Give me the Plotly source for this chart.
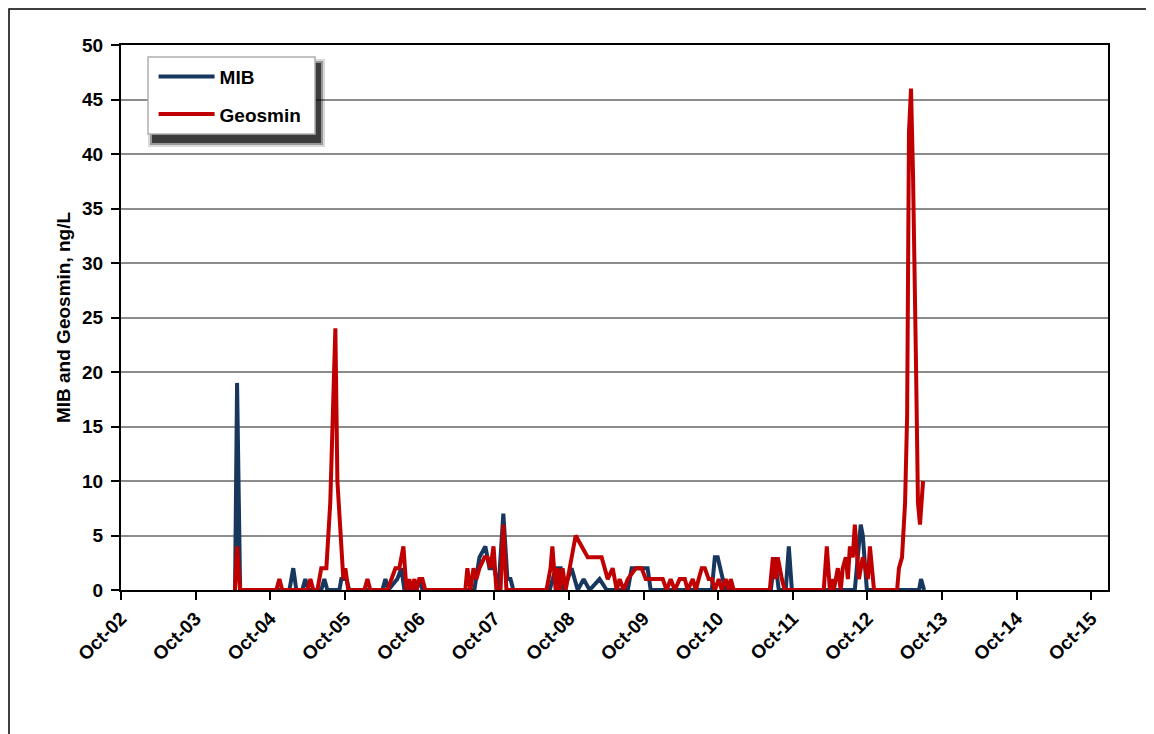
import plotly.graph_objects as go

# ---------------- data ----------------
mib_dates = [
    "2004-04-11", "2004-04-21", "2004-05-06",
    "2005-01-02", "2005-01-21", "2005-02-05",
    "2005-03-06", "2005-03-21", "2005-04-05",
    "2005-06-07", "2005-06-22", "2005-07-07",
    "2005-09-04", "2005-09-13", "2005-10-08", "2005-10-22",
    "2006-04-02", "2006-04-17", "2006-05-01",
    "2006-06-14", "2006-07-04", "2006-07-19",
    "2006-09-16", "2006-09-30", "2006-10-15",
    "2007-06-26", "2007-07-21", "2007-08-19", "2007-09-08", "2007-10-02",
    "2007-10-22", "2007-11-15", "2007-12-05", "2007-12-20", "2008-01-03",
    "2008-06-29", "2008-07-28", "2008-08-22", "2008-09-05", "2008-10-14",
    "2008-11-13", "2008-12-12", "2009-01-10", "2009-02-28", "2009-04-04",
    "2009-07-16", "2009-08-04", "2009-10-21", "2009-11-05",
    "2010-08-31", "2010-09-15", "2010-09-29", "2010-10-24", "2010-11-07",
    "2011-06-16", "2011-07-05", "2011-07-25", "2011-08-28", "2011-09-12", "2011-09-27",
    "2012-07-31", "2012-08-29", "2012-09-08", "2012-09-28",
    "2013-06-10", "2013-06-20", "2013-07-05",
]
mib_values = [
    0, 19, 0,
    0, 2, 0,
    0, 1, 0,
    0, 1, 0,
    0, 1, 1, 0,
    0, 1, 0,
    1, 2, 0,
    0, 1, 0,
    0, 3, 4, 2, 2,
    0, 7, 1, 1, 0,
    0, 2, 2, 0, 2,
    0, 1, 0, 1, 0,
    0, 2, 2, 0,
    0, 3, 3, 1, 0,
    0, 3, 0, 0, 4, 0,
    0, 6, 5, 0,
    0, 1, 0,
]

geo_dates = [
    "2004-04-11", "2004-04-21", "2004-05-06",
    "2004-10-30", "2004-11-14", "2004-11-28",
    "2005-03-31", "2005-04-15", "2005-04-29",
    "2005-05-19", "2005-06-07", "2005-07-02", "2005-07-21", "2005-08-15",
    "2005-08-25", "2005-09-13", "2005-09-23", "2005-10-03", "2005-10-17",
    "2006-01-04", "2006-01-19", "2006-02-02",
    "2006-04-27", "2006-06-05", "2006-06-24", "2006-07-14", "2006-07-29",
    "2006-08-12", "2006-08-22", "2006-09-06", "2006-09-16", "2006-09-30",
    "2006-10-15", "2006-10-29",
    "2007-05-13", "2007-05-23", "2007-06-07", "2007-06-22", "2007-07-06",
    "2007-07-21", "2007-08-15", "2007-08-29", "2007-09-13", "2007-09-28",
    "2007-10-12", "2007-11-01", "2007-11-15", "2007-11-30",
    "2008-06-13", "2008-07-03", "2008-07-12", "2008-07-28", "2008-08-07",
    "2008-08-17", "2008-08-31", "2008-09-15", "2008-11-03", "2009-01-01",
    "2009-03-10", "2009-04-09", "2009-05-03", "2009-05-23", "2009-06-06",
    "2009-06-26", "2009-07-16", "2009-08-24", "2009-09-22", "2009-10-12",
    "2010-01-03", "2010-01-22", "2010-02-11", "2010-03-03", "2010-03-27",
    "2010-04-21", "2010-05-05", "2010-05-30", "2010-06-14", "2010-06-28",
    "2010-07-13", "2010-07-28", "2010-08-16", "2010-08-31", "2010-09-15",
    "2010-10-04", "2010-10-19", "2010-11-07", "2010-11-22", "2010-12-02",
    "2010-12-16",
    "2011-06-11", "2011-06-26", "2011-07-10", "2011-07-20", "2011-08-09",
    "2011-08-23",
    "2012-03-01", "2012-03-16", "2012-03-31", "2012-04-09", "2012-04-19",
    "2012-05-09", "2012-05-23", "2012-06-02", "2012-06-17", "2012-06-27",
    "2012-07-07", "2012-07-21", "2012-07-31", "2012-08-10", "2012-08-20",
    "2012-09-08", "2012-09-23", "2012-10-03", "2012-10-13", "2012-11-02",
    "2013-02-23", "2013-03-04", "2013-03-19", "2013-04-03", "2013-04-13",
    "2013-04-22", "2013-05-02", "2013-05-12", "2013-05-27", "2013-06-05",
    "2013-06-15", "2013-06-30",
]
geo_values = [
    0, 4, 0,
    0, 1, 0,
    0, 1, 0,
    0, 2, 2, 8, 24,
    10, 3, 1, 2, 0,
    0, 1, 0,
    0, 2, 2, 4, 0,
    1, 0, 1, 0, 1,
    1, 0,
    0, 2, 0, 2, 1,
    2, 3, 3, 2, 4,
    0, 0, 6, 0,
    0, 2, 4, 0, 2,
    0, 2, 0, 5, 3,
    3, 1, 2, 0, 1,
    0, 1, 2, 2, 1,
    1, 0, 1, 0, 1,
    1, 0, 1, 0, 1,
    2, 2, 1, 1, 0,
    1, 0, 1, 0, 1,
    0,
    0, 3, 1, 3, 1,
    0,
    0, 4, 0, 1, 0,
    2, 0, 2, 3, 1,
    4, 3, 6, 3, 1,
    3, 2, 1, 4, 0,
    0, 2, 3, 8, 16,
    42, 46, 38, 20, 8,
    6, 10,
]

tick_dates = ["2002-10-01", "2003-10-01", "2004-10-01", "2005-10-01", "2006-10-01",
              "2007-10-01", "2008-10-01", "2009-10-01", "2010-10-01", "2011-10-01",
              "2012-10-01", "2013-10-01", "2014-10-01", "2015-10-01"]
tick_labels = ["Oct-02", "Oct-03", "Oct-04", "Oct-05", "Oct-06", "Oct-07", "Oct-08",
               "Oct-09", "Oct-10", "Oct-11", "Oct-12", "Oct-13", "Oct-14", "Oct-15"]
x_range = ["2002-10-01", "2015-12-22"]
y_range = [0, 50]
y_title = "MIB and Geosmin, ng/L"

# ---------------- figure ----------------
FONT = "Liberation Sans, Arial, sans-serif"
PW, PH = 987.0, 545.0   # plot-area size in px (used for paper-coordinate offsets)

fig = go.Figure()
fig.add_trace(go.Scatter(x=mib_dates, y=mib_values, mode="lines", name="MIB",
                         legendgroup="mib",
                         line=dict(color="#17375E", width=4)))
fig.add_trace(go.Scatter(x=geo_dates, y=geo_values, mode="lines", name="Geosmin",
                         legendgroup="geo",
                         line=dict(color="#C00000", width=4)))

shapes = []
# outer chart border
shapes.append(dict(type="rect", xref="paper", yref="paper",
                   x0=-112 / PW, x1=1.0426, y0=-0.30, y1=1 + 36 / PH,
                   line=dict(color="black", width=1.5), fillcolor="rgba(0,0,0,0)",
                   layer="below"))
# legend shadow (layers to fake a blur)
bx0, bx1, by0, by1 = 27 / PW, 194 / PW, 1 - 89 / PH, 1 - 12 / PH
for d, op in [(4, 0.15), (2, 0.3), (0, 0.6)]:
    shapes.append(dict(type="rect", xref="paper", yref="paper",
                       x0=bx0 + (4 - d) / PW, x1=bx1 + (6 + d) / PW,
                       y0=by0 - (9 + d) / PH, y1=by1 - (6 - d) / PH,
                       line=dict(width=0), fillcolor=f"rgba(0,0,0,{op})", layer="above"))
# legend box
shapes.append(dict(type="rect", xref="paper", yref="paper",
                   x0=bx0, x1=bx1, y0=by0, y1=by1,
                   line=dict(color="#b0b0b0", width=1.5), fillcolor="white", layer="above"))
fig.update_layout(shapes=shapes)

fig.update_layout(
    width=1154, height=734,
    margin=dict(l=113, r=54, t=37, b=152),
    paper_bgcolor="white", plot_bgcolor="white",
    font=dict(family=FONT, size=19, color="black", weight="bold"),
    showlegend=True,
    legend=dict(x=0.033, y=0.977, xanchor="left", yanchor="top",
                bgcolor="rgba(0,0,0,0)", borderwidth=0,
                font=dict(family=FONT, size=19, color="black", weight="bold"),
                tracegroupgap=10, itemwidth=56),
    xaxis=dict(type="date", range=x_range,
               tickmode="array", tickvals=tick_dates, ticktext=tick_labels,
               tickangle=-45, ticks="outside", ticklen=8, tickwidth=2, tickcolor="black",
               showline=True, linewidth=2, linecolor="black", mirror=True,
               showgrid=False, zeroline=False,
               tickfont=dict(family=FONT, size=19, color="black", weight="bold")),
    yaxis=dict(range=y_range, dtick=5, tick0=0,
               ticks="outside", ticklen=8, tickwidth=2, tickcolor="black",
               ticklabelstandoff=4,
               showline=True, linewidth=2, linecolor="black", mirror=True,
               showgrid=True, gridcolor="#8c8c8c", gridwidth=2, zeroline=False,
               tickfont=dict(family=FONT, size=19, color="black", weight="bold")),
)
fig.update_yaxes(title=dict(text=y_title, standoff=6,
                            font=dict(family=FONT, size=19, color="black", weight="bold")))

fig.write_html("out.html")
